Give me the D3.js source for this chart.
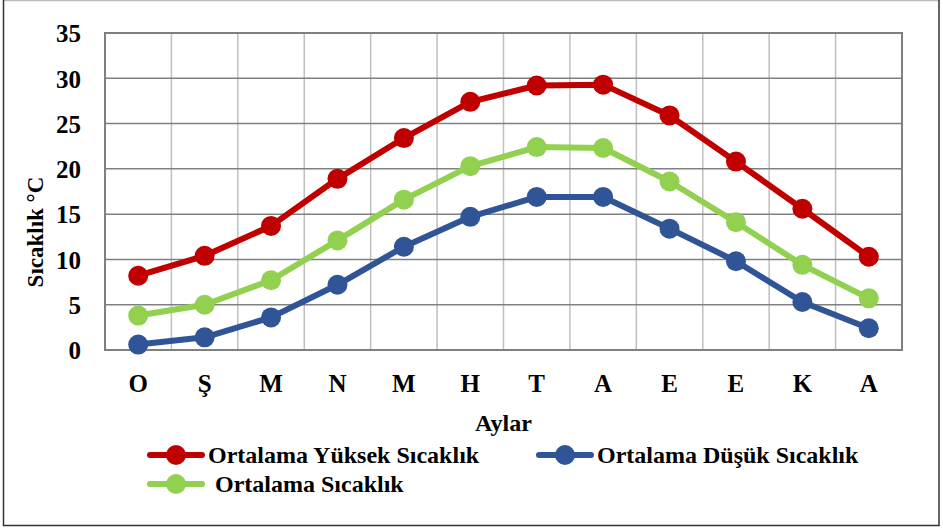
<!DOCTYPE html>
<html><head><meta charset="utf-8">
<script src="https://cdn.jsdelivr.net/npm/d3@7"></script>
<style>body{margin:0;background:#fff}svg{display:block}text{font-family:"Liberation Serif","Times New Roman",serif;font-weight:bold;fill:#000}</style>
</head><body>
<script>
const months = ["O","Ş","M","N","M","H","T","A","E","E","K","A"];
const yTicks = [0,5,10,15,20,25,30,35];
const highTemps = [8.2,10.4,13.7,18.9,23.4,27.4,29.2,29.3,25.9,20.8,15.6,10.3];
const lowTemps = [0.6,1.4,3.6,7.2,11.4,14.7,16.9,16.9,13.4,9.8,5.3,2.4];
const avgTemps = [3.8,5.0,7.7,12.1,16.6,20.3,22.4,22.3,18.6,14.1,9.4,5.7];
const seriesNames = ["Ortalama Yüksek Sıcaklık","Ortalama Düşük Sıcaklık","Ortalama Sıcaklık"];
const seriesColors = ["#C00000","#2F5597","#92D050"];

const W=943,H=529;
const m={left:105,top:33,right:902,bottom:350};
const svg=d3.select("body").append("svg").attr("width",W).attr("height",H);
svg.append("rect").attr("width",W).attr("height",H).attr("fill","#fff");
// outer border
svg.append("line").attr("x1",3).attr("x2",939).attr("y1",0.5).attr("y2",0.5).attr("stroke","#bbb").attr("stroke-width",1.5);
svg.append("path").attr("d","M3.5,0 V525.5 H939 V0").attr("fill","none").attr("stroke","#333").attr("stroke-width",1.5);

const idx=months.map((d,i)=>i);
const x=d3.scaleBand().domain(idx).range([m.left,m.right]);
const y=d3.scaleLinear().domain([0,35]).range([m.bottom,m.top]);

// vertical gridlines at band boundaries
const g=svg.append("g");
g.selectAll("line.v").data(idx.slice(1)).join("line").attr("class","v")
 .attr("x1",d=>x(d)).attr("x2",d=>x(d)).attr("y1",m.top).attr("y2",m.bottom)
 .attr("stroke","#bfbfbf").attr("stroke-width",1.5);
g.selectAll("line.h").data(yTicks.slice(1,-1)).join("line").attr("class","h")
 .attr("x1",m.left).attr("x2",m.right).attr("y1",d=>y(d)).attr("y2",d=>y(d))
 .attr("stroke","#808080").attr("stroke-width",1.5);
g.append("rect").attr("x",m.left).attr("y",m.top).attr("width",m.right-m.left).attr("height",m.bottom-m.top)
 .attr("fill","none").attr("stroke","#7f7f7f").attr("stroke-width",2);

// y axis
const ya=svg.append("g").attr("transform",`translate(${m.left},0)`)
 .call(d3.axisLeft(y).tickValues(yTicks).tickSize(0).tickPadding(24));
ya.select(".domain").remove();
ya.selectAll("text").style("font-size","25px").attr("dy","0.35em").style("font-family",'"Liberation Serif",serif');

// x axis
const xa=svg.append("g").attr("transform",`translate(0,${m.bottom})`)
 .call(d3.axisBottom(x).tickFormat(i=>months[i]).tickSize(0).tickPadding(24));
xa.select(".domain").remove();
xa.selectAll("text").style("font-size","25px").style("font-family",'"Liberation Serif",serif');

svg.append("text").attr("x",(m.left+m.right)/2).attr("y",431).attr("text-anchor","middle").style("font-size","24px").text("Aylar");
svg.append("text").attr("transform","translate(43,232) rotate(-90)").attr("text-anchor","middle").style("font-size","23px").text("Sıcaklık °C");

// series
const series=[highTemps,lowTemps,avgTemps];
const cx=i=>x(i)+x.bandwidth()/2;
const line=d3.line().x((d,i)=>cx(i)).y(d=>y(d));
series.forEach((vals,s)=>{
  const sg=svg.append("g");
  sg.append("path").datum(vals).attr("d",line).attr("fill","none")
    .attr("stroke",seriesColors[s]).attr("stroke-width",6).attr("stroke-linejoin","round").attr("stroke-linecap","round");
  sg.selectAll("circle").data(vals).join("circle").attr("cx",(d,i)=>cx(i)).attr("cy",d=>y(d)).attr("r",10)
    .attr("fill",seriesColors[s]);
});

// legend
const legendItems=[
  {s:0,x0:147,y0:455,tx:208},
  {s:1,x0:536,y0:455,tx:597},
  {s:2,x0:147,y0:484,tx:215}
];
legendItems.forEach(it=>{
  const lg=svg.append("g");
  lg.append("line").attr("x1",it.x0+3).attr("x2",it.x0+55).attr("y1",it.y0).attr("y2",it.y0)
    .attr("stroke",seriesColors[it.s]).attr("stroke-width",6).attr("stroke-linecap","round");
  lg.append("circle").attr("cx",it.x0+29).attr("cy",it.y0).attr("r",10).attr("fill",seriesColors[it.s]);
  lg.append("text").attr("x",it.tx).attr("y",it.y0+8).style("font-size","24px").text(seriesNames[it.s]);
});
</script>
</body></html>
